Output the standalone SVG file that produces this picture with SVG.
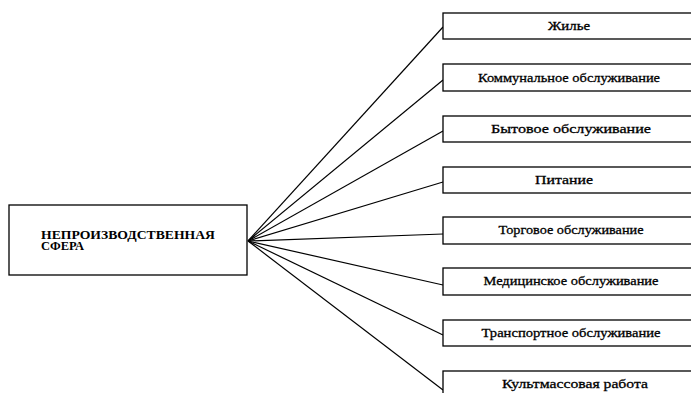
<svg xmlns="http://www.w3.org/2000/svg" width="691" height="393" viewBox="0 0 691 393">
<style>
.box{fill:#fff;stroke:#000;stroke-width:1.3}
.t{font-family:"Liberation Serif","Times New Roman",serif;font-size:13px;fill:#000;stroke:#000;stroke-width:0.3;text-anchor:middle}
.m{font-family:"Liberation Serif","Times New Roman",serif;font-size:11.5px;font-weight:bold;fill:#000}
.c line{stroke:#000;stroke-width:1.2}
</style>
<rect width="691" height="393" fill="#fff"/>
<g class="c" id="connectors">
<line x1="248" y1="241" x2="443" y2="27"/>
<line x1="248" y1="241" x2="443" y2="80"/>
<line x1="248" y1="241" x2="443" y2="131"/>
<line x1="248" y1="241" x2="443" y2="182"/>
<line x1="248" y1="241" x2="443" y2="234"/>
<line x1="248" y1="241" x2="443" y2="285"/>
<line x1="248" y1="241" x2="443" y2="335"/>
<line x1="248" y1="241" x2="443" y2="390"/>
</g>
<g id="root">
<rect class="box" x="9" y="205" width="238" height="70"/>
<text class="m" x="41" y="238.5" textLength="174" lengthAdjust="spacingAndGlyphs">НЕПРОИЗВОДСТВЕННАЯ</text>
<text class="m" x="41" y="250" textLength="43" lengthAdjust="spacingAndGlyphs">СФЕРА</text>
</g>
<g id="n1"><rect class="box" x="443" y="13" width="260" height="26"/><text class="t" x="569" y="30" textLength="42" lengthAdjust="spacingAndGlyphs">Жилье</text></g>
<g id="n2"><rect class="box" x="443" y="64" width="260" height="27"/><text class="t" x="569" y="82" textLength="182" lengthAdjust="spacingAndGlyphs">Коммунальное обслуживание</text></g>
<g id="n3"><rect class="box" x="443" y="116" width="260" height="26"/><text class="t" x="571" y="133" textLength="160" lengthAdjust="spacingAndGlyphs">Бытовое обслуживание</text></g>
<g id="n4"><rect class="box" x="443" y="167" width="260" height="26"/><text class="t" x="564" y="184" textLength="58" lengthAdjust="spacingAndGlyphs">Питание</text></g>
<g id="n5"><rect class="box" x="443" y="217" width="260" height="27"/><text class="t" x="571" y="234" textLength="145" lengthAdjust="spacingAndGlyphs">Торговое обслуживание</text></g>
<g id="n6"><rect class="box" x="443" y="268" width="260" height="27"/><text class="t" x="571" y="285" textLength="175" lengthAdjust="spacingAndGlyphs">Медицинское обслуживание</text></g>
<g id="n7"><rect class="box" x="443" y="320" width="260" height="26"/><text class="t" x="571" y="337" textLength="179" lengthAdjust="spacingAndGlyphs">Транспортное обслуживание</text></g>
<g id="n8"><rect class="box" x="443" y="371" width="260" height="30"/><text class="t" x="575" y="388" textLength="146" lengthAdjust="spacingAndGlyphs">Культмассовая работа</text></g>
</svg>
